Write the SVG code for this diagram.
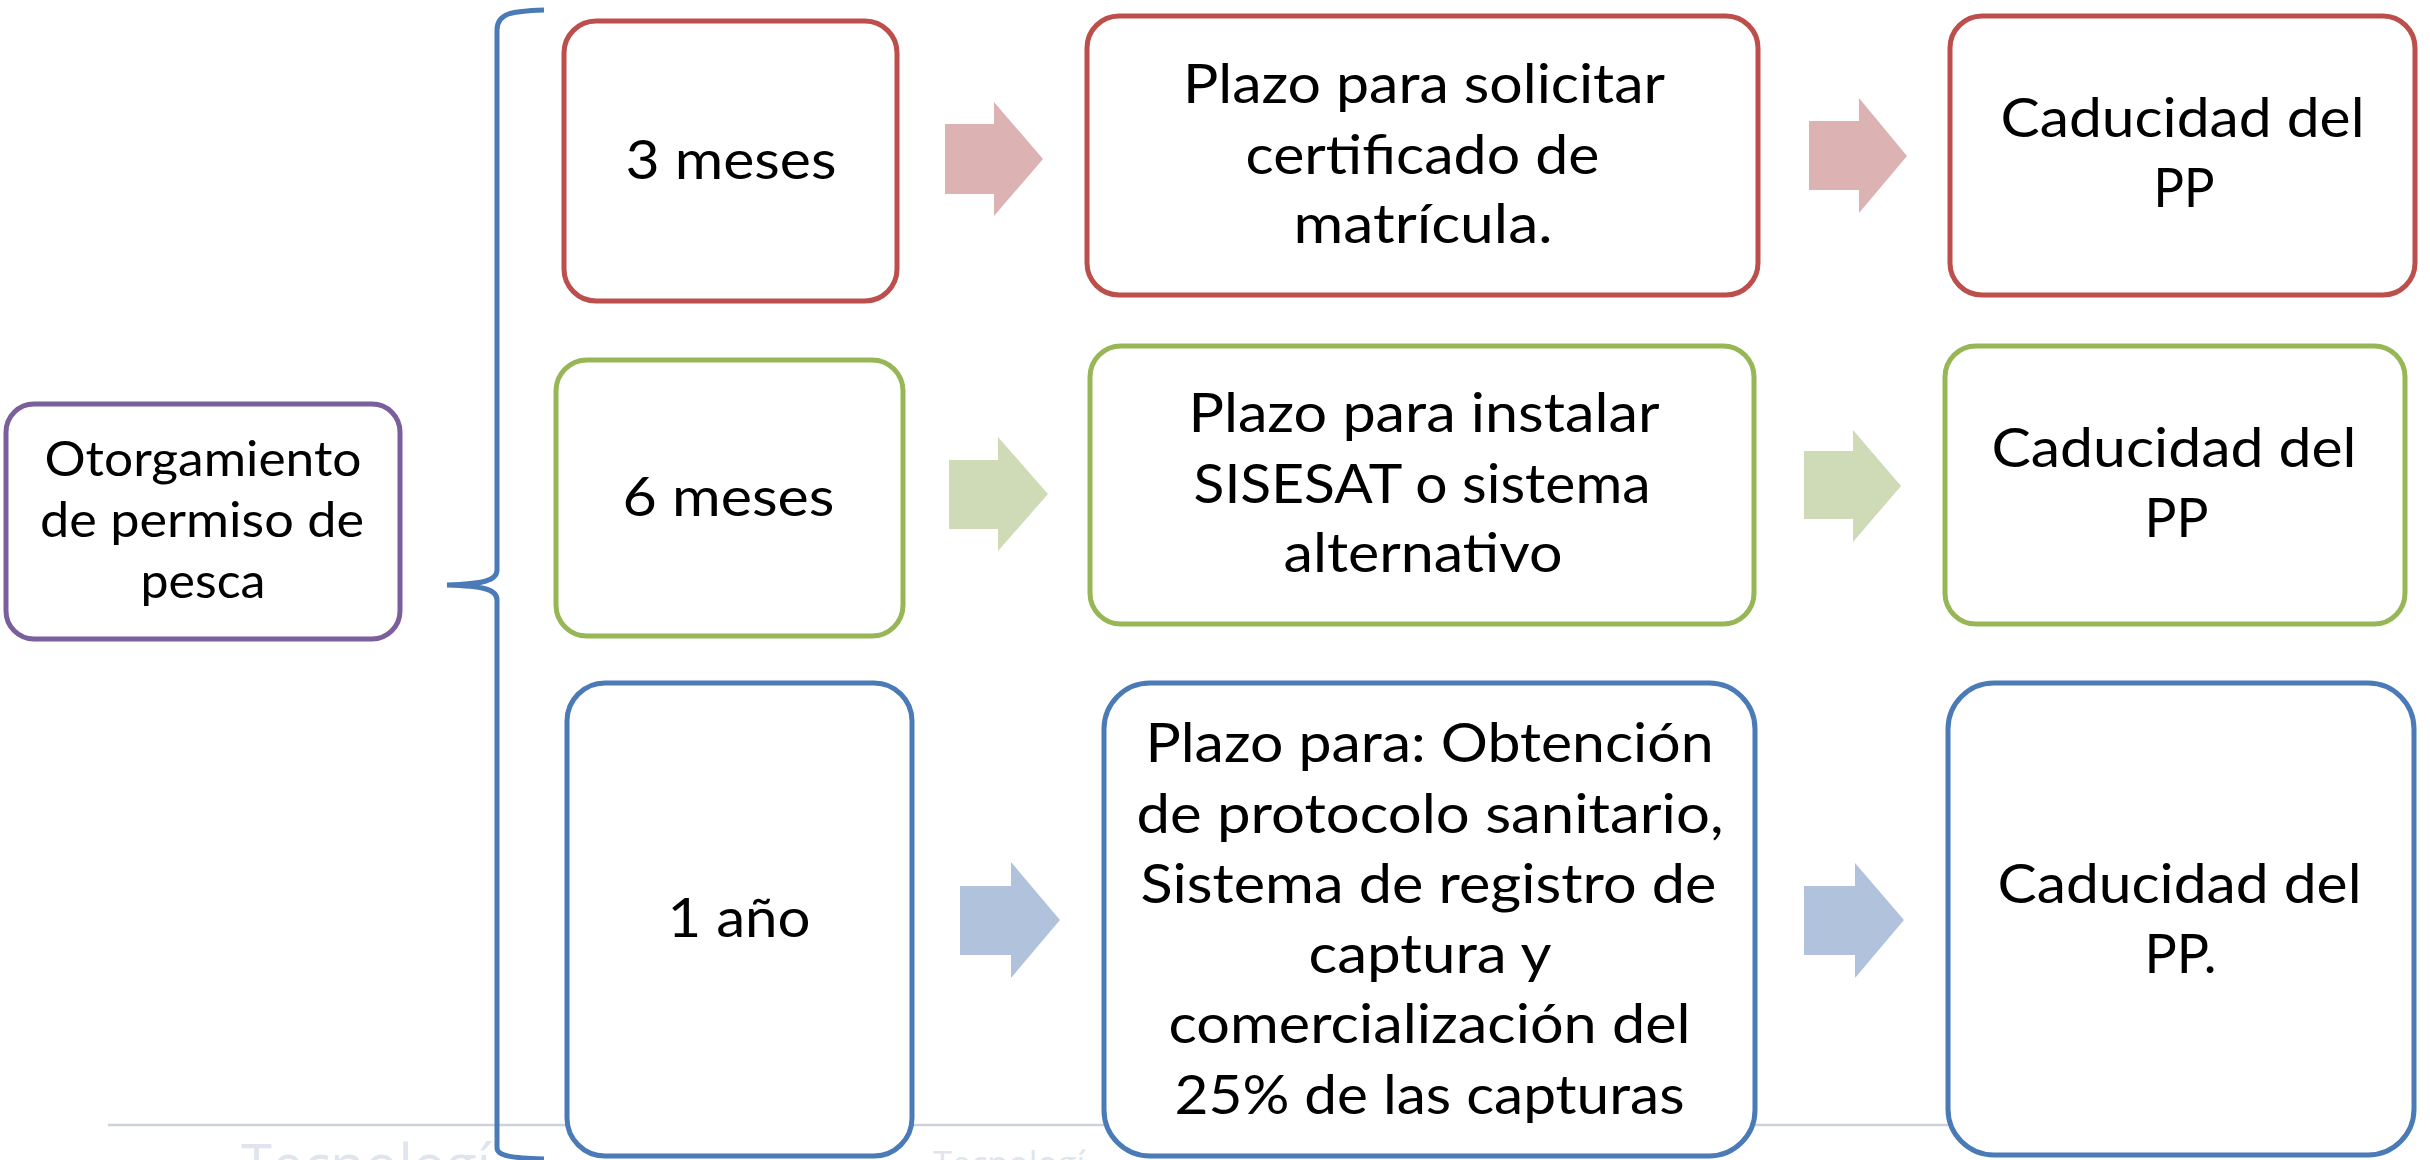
<svg xmlns="http://www.w3.org/2000/svg" width="2430" height="1160" viewBox="0 0 2430 1160">
<style>
.box{fill:#ffffff;stroke-width:5}
.red{stroke:#bc4f4c}
.green{stroke:#97b756}
.blue{stroke:#4a7bb7}
.purple{stroke:#7b5f9d}
.t{font-family:Lato,"Open Sans","Liberation Sans",sans-serif;font-size:55px;fill:#000000;text-anchor:middle}
.tp{font-size:49px}
.wm{font-family:"Open Sans",Lato,sans-serif;fill:#e0e4ec}
.arR{fill:#dcb2b2}
.arG{fill:#cedbb6}
.arB{fill:#b1c2dd}
</style>
<rect x="0" y="0" width="2430" height="1160" fill="#ffffff"/>
<g id="background">
<line x1="108" y1="1125" x2="2000" y2="1125" stroke="#cdd1dc" stroke-width="2.5"/>
<text class="wm" x="241" y="1186" font-size="58" textLength="250" lengthAdjust="spacingAndGlyphs">Tecnologí</text>
<text class="wm" x="933" y="1176" font-size="35" textLength="152" lengthAdjust="spacingAndGlyphs">Tecnologí</text>
</g>
<g id="connectors">
<path d="M 544,10 C 512,11 497,13 497,30 L 497,570 C 497,581 482,584 447,585 C 482,586 497,589 497,600 L 497,1148 C 497,1156 512,1158 544,1159" fill="none" stroke="#4a7bb7" stroke-width="5"/>
<polygon class="arR" points="945,124 994,124 994,102 1043,159 994,216 994,194 945,194"/>
<polygon class="arR" points="1809,121 1859,121 1859,98 1907,156 1859,213 1859,190 1809,190"/>
<polygon class="arG" points="949,460 998,460 998,437 1048,494 998,551 998,529 949,529"/>
<polygon class="arG" points="1804,451 1853,451 1853,430 1901,486 1853,542 1853,519 1804,519"/>
<polygon class="arB" points="960,886 1011,886 1011,862 1060,920 1011,978 1011,955 960,955"/>
<polygon class="arB" points="1804,886 1855,886 1855,863 1904,920 1855,978 1855,955 1804,955"/>
</g>
<g id="n-otorgamiento">
<rect class="box purple" x="6" y="404" width="394" height="235" rx="28"/>
<text class="t tp" x="203" y="476" textLength="317" lengthAdjust="spacingAndGlyphs">Otorgamiento</text>
<text class="t tp" x="202" y="537" textLength="324" lengthAdjust="spacingAndGlyphs">de permiso de</text>
<text class="t tp" x="203" y="598" textLength="125" lengthAdjust="spacingAndGlyphs">pesca</text>
</g>
<g id="n-3meses">
<rect class="box red" x="564" y="21" width="333" height="280" rx="32"/>
<text class="t" x="731" y="179" textLength="211" lengthAdjust="spacingAndGlyphs">3 meses</text>
</g>
<g id="n-plazo-matricula">
<rect class="box red" x="1087" y="16" width="671" height="279" rx="32"/>
<text class="t" x="1424" y="103" textLength="482" lengthAdjust="spacingAndGlyphs">Plazo para solicitar</text>
<text class="t" x="1422.5" y="174" textLength="354" lengthAdjust="spacingAndGlyphs">certificado de</text>
<text class="t" x="1423" y="243" textLength="259" lengthAdjust="spacingAndGlyphs">matrícula.</text>
</g>
<g id="n-caducidad-1">
<rect class="box red" x="1950" y="16" width="465" height="279" rx="32"/>
<text class="t" x="2182.5" y="137" textLength="364" lengthAdjust="spacingAndGlyphs">Caducidad del</text>
<text class="t" x="2184" y="207" textLength="61" lengthAdjust="spacingAndGlyphs">PP</text>
</g>
<g id="n-6meses">
<rect class="box green" x="556" y="360" width="347" height="276" rx="31"/>
<text class="t" x="728.5" y="516" textLength="212" lengthAdjust="spacingAndGlyphs">6 meses</text>
</g>
<g id="n-plazo-sisesat">
<rect class="box green" x="1090" y="346" width="664" height="278" rx="31"/>
<text class="t" x="1424" y="432" textLength="471" lengthAdjust="spacingAndGlyphs">Plazo para instalar</text>
<text class="t" x="1422" y="503" textLength="457" lengthAdjust="spacingAndGlyphs">SISESAT o sistema</text>
<text class="t" x="1423" y="572" textLength="279" lengthAdjust="spacingAndGlyphs">alternativo</text>
</g>
<g id="n-caducidad-2">
<rect class="box green" x="1945" y="346" width="460" height="278" rx="31"/>
<text class="t" x="2174" y="467" textLength="365" lengthAdjust="spacingAndGlyphs">Caducidad del</text>
<text class="t" x="2176.5" y="537" textLength="64" lengthAdjust="spacingAndGlyphs">PP</text>
</g>
<g id="n-1anio">
<rect class="box blue" x="567" y="683" width="345" height="473" rx="38"/>
<text class="t" x="739" y="937" textLength="143" lengthAdjust="spacingAndGlyphs">1 año</text>
</g>
<g id="n-plazo-protocolo">
<rect class="box blue" x="1104" y="683" width="651" height="473" rx="46"/>
<text class="t" x="1429.5" y="762" textLength="568" lengthAdjust="spacingAndGlyphs">Plazo para: Obtención</text>
<text class="t" x="1430" y="833" textLength="587" lengthAdjust="spacingAndGlyphs">de protocolo sanitario,</text>
<text class="t" x="1428.5" y="903" textLength="576" lengthAdjust="spacingAndGlyphs">Sistema de registro de</text>
<text class="t" x="1430" y="973" textLength="243" lengthAdjust="spacingAndGlyphs">captura y</text>
<text class="t" x="1429.5" y="1043" textLength="522" lengthAdjust="spacingAndGlyphs">comercialización del</text>
<text class="t" x="1429.5" y="1114" textLength="510" lengthAdjust="spacingAndGlyphs">25% de las capturas</text>
</g>
<g id="n-caducidad-3">
<rect class="box blue" x="1948" y="683" width="466" height="472" rx="46"/>
<text class="t" x="2179.5" y="903" textLength="364" lengthAdjust="spacingAndGlyphs">Caducidad del</text>
<text class="t" x="2180.5" y="973" textLength="72" lengthAdjust="spacingAndGlyphs">PP.</text>
</g>
</svg>
